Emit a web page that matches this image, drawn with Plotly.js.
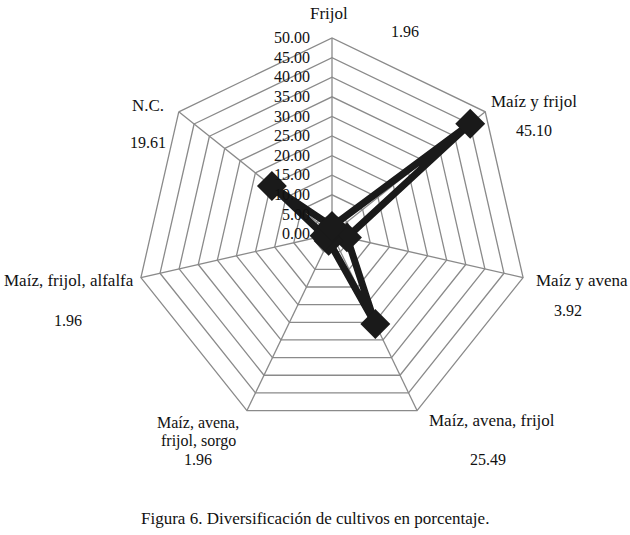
<!DOCTYPE html>
<html>
<head>
<meta charset="utf-8">
<script src="https://cdn.plot.ly/plotly-3.0.1.min.js"></script>
<style>html,body{margin:0;padding:0;background:#fff}#chart{width:630px;height:535px}</style>
</head>
<body>
<div id="chart"></div>
<script>
const categories = ["Frijol", "Maíz y frijol", "Maíz y avena", "Maíz, avena, frijol", "Maíz, avena, frijol, sorgo", "Maíz, frijol, alfalfa", "N.C."];
const values = [1.96, 45.10, 3.92, 25.49, 1.96, 1.96, 19.61];
const labelLines = [["Frijol"], ["Maíz y frijol"], ["Maíz y avena"], ["Maíz, avena, frijol"], ["Maíz, avena,", "frijol, sorgo"], ["Maíz, frijol, alfalfa"], ["N.C."]];
const valueTexts = ["1.96", "45.10", "3.92", "25.49", "1.96", "1.96", "19.61"];
const radialTicks = [0, 5, 10, 15, 20, 25, 30, 35, 40, 45, 50];
const caption = "Figura 6. Diversificación de cultivos en porcentaje.";

const W = 630, H = 535;
const M = {l: 136, r: 102, t: 38, b: 105};
const PW = W - M.l - M.r, PH = H - M.t - M.b;
const FONT = "Liberation Serif, DejaVu Serif, serif";
// label anchor positions in pixels (center of first line), line step
const labelPos = [[329, 13], [534, 102], [582, 280], [492, 420], [198, 422], [69, 280], [148, 105]];
const valuePos = [[405, 31], [534, 130], [568, 310], [488, 460], [198, 460], [68, 320], [148, 142]];
const LINE_STEP = 19;

const annotations = [];
function px(x, y) { return {x: (x - M.l) / PW, y: 1 - (y - M.t) / PH}; }
categories.forEach((c, i) => {
  labelLines[i].forEach((t, k) => {
    const p = px(labelPos[i][0], labelPos[i][1] + k * LINE_STEP);
    annotations.push({xref: 'paper', yref: 'paper', x: p.x, y: p.y, xanchor: 'center', yanchor: 'middle',
      text: t, showarrow: false, font: {family: FONT, size: labelLines[i].length > 1 ? 16 : 17, color: '#111'}});
  });
  const q = px(valuePos[i][0], valuePos[i][1]);
  annotations.push({xref: 'paper', yref: 'paper', x: q.x, y: q.y, xanchor: 'center', yanchor: 'middle',
    text: valueTexts[i], showarrow: false, font: {family: FONT, size: 16, color: '#111'}});
});
const cp = px(315, 518);
annotations.push({xref: 'paper', yref: 'paper', x: cp.x, y: cp.y, xanchor: 'center', yanchor: 'middle',
  text: caption, showarrow: false, font: {family: FONT, size: 17, color: '#111'}});

const trace = {
  type: 'scatterpolar',
  r: values.concat([values[0]]),
  theta: categories.concat([categories[0]]),
  mode: 'lines+markers',
  line: {color: '#1a1a1a', width: 7},
  marker: {symbol: 'diamond', size: 23, color: '#1a1a1a'},
  hoverinfo: 'skip'
};

const layout = {
  width: W, height: H,
  margin: M,
  paper_bgcolor: '#fff',
  showlegend: false,
  font: {family: FONT, size: 15, color: '#111'},
  polar: {
    bgcolor: '#fff',
    gridshape: 'linear',
    domain: {x: [0, 1], y: [0, 1]},
    radialaxis: {
      range: [0, 50], tickvals: radialTicks, tickformat: '.2f',
      angle: 90, tickangle: 90, side: 'counterclockwise',
      showline: false, ticks: 'outside', ticklen: 16, tickcolor: 'rgba(0,0,0,0)',
      gridcolor: '#8a8a8a', gridwidth: 1.3,
      tickfont: {family: FONT, size: 16, color: '#111'}
    },
    angularaxis: {
      direction: 'clockwise', rotation: 90,
      showticklabels: false, ticks: '',
      linecolor: '#8a8a8a', linewidth: 1.3, gridcolor: '#8a8a8a', gridwidth: 1.3
    }
  },
  annotations: annotations
};

Plotly.newPlot('chart', [trace], layout, {displayModeBar: false, staticPlot: true});
</script>
</body>
</html>
